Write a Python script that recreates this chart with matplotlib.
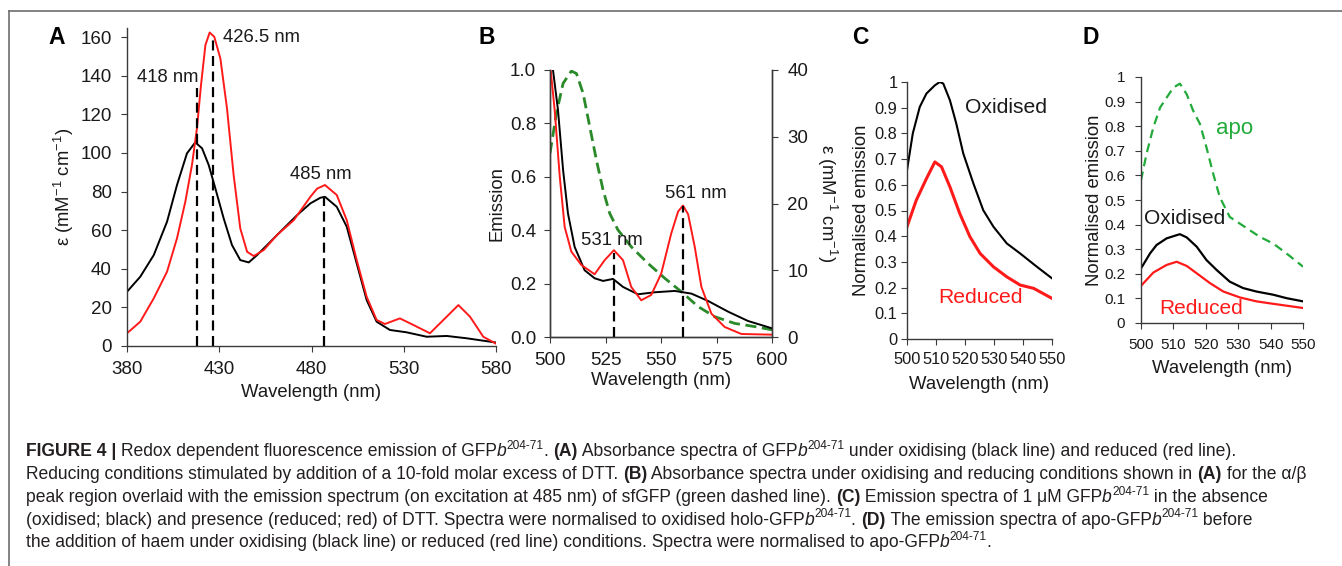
import matplotlib
matplotlib.use("Agg")
import matplotlib.pyplot as plt
from matplotlib import font_manager
from matplotlib.lines import Line2D
from matplotlib.font_manager import FontProperties

# ======================== DATA ========================

# Panel A : absorbance, 380-580 nm
a_ox_nm = [380, 387.2, 394.5, 401.7, 407.1, 412.5, 417, 420.7, 424.3, 427.9, 432.4,
           436.9, 441.4, 446, 450.5, 457.7, 464.9, 472.2, 479.4, 484.8, 487.3,
           493.7, 499.1, 504.5, 509.9, 515.3, 522.5, 531.5, 542.4, 553.3, 564.1, 580]
a_ox_eps = [28.1, 35.9, 47.1, 64.4, 83.4, 99.8, 105.5, 102.4, 93.7, 81.6, 66.1,
            52.3, 44.5, 43.3, 47.1, 54, 60.9, 67.8, 73.9, 76.8, 77.3,
            72.1, 61.8, 42.8, 23.8, 12.6, 8.3, 7.1, 4.8, 5.2, 4.0, 1.8]
a_red_nm = [380, 387.2, 394.5, 401.7, 407.1, 411.6, 415.2, 417.9, 420.1, 422.5, 424.8,
            427.3, 430.6, 434.2, 437.8, 441.4, 445.1, 448.7, 454.1, 461.3, 470.4,
            479.4, 483, 487.3, 493.7, 499.1, 504.5, 509.9, 515.3, 519.8, 527.9,
            535.2, 544.2, 553.3, 559.6, 565.9, 573.1, 580]
a_red_eps = [6.6, 12.6, 24.7, 38.5, 55.8, 74.7, 93.7, 112.7, 135.1, 155.9, 162.4,
             160.2, 149, 123.1, 88.5, 60.9, 48.8, 46.6, 49.7, 57.5, 65.2,
             77.3, 81.5, 83.4, 78.2, 65.2, 44.5, 25.5, 13.5, 11.4, 14.3,
             10.9, 6.6, 15.2, 21.2, 15.2, 4.8, 1.2]
a_peaks = [418, 426.5, 487]
a_peak_tops = [133.4, 159, 76.5]
a_peak_labels = ["418 nm", "426.5 nm", "485 nm"]

# Panel B : alpha/beta region (eps, right axis) + sfGFP emission (left axis)
b_ox_nm = [501.35, 503.6, 505.9, 508.1, 511.1, 515.6, 520.1, 523.9, 528.4, 532.9,
           539.6, 547.2, 556.2, 563.7, 571.2, 580.2, 589.2, 600]
b_ox_eps = [40, 34, 25, 18.5, 13.5, 10.0, 8.8, 8.4, 8.7, 7.5,
            6.4, 6.7, 6.9, 6.5, 5.4, 3.8, 2.4, 1.3]
b_red_nm = [500.3, 502.1, 504.4, 506.6, 509.6, 514.1, 520.1, 524.6, 528.8, 532.9,
            536.6, 541.1, 545.6, 550.1, 554.6, 557.7, 559.9, 562.2, 565.2, 568.2,
            572.7, 578.7, 586.2, 600]
b_red_eps = [40, 34, 24, 16.5, 12.8, 10.8, 9.4, 11.5, 13.0, 11.5,
             7.5, 5.5, 6.3, 9.5, 15.5, 18.8, 19.7, 18.4, 13.5, 7.5,
             3.5, 1.5, 0.45, 0.35]
b_gfp_nm = [500, 502.9, 505.9, 509.6, 511.9, 514.9, 517.9, 520.9, 523.9, 526.9,
            530.6, 536.6, 544.1, 551.7, 559.1, 566.7, 574.2, 583.2, 592.2, 600]
b_gfp_em = [0.688, 0.838, 0.95, 0.996, 0.987, 0.913, 0.788, 0.663, 0.551, 0.463,
            0.401, 0.338, 0.276, 0.22, 0.17, 0.114, 0.076, 0.051, 0.039, 0.027]
b_peaks = [528.8, 559.9]
b_peak_tops = [12.6, 19.6]
b_peak_labels = ["531 nm", "561 nm"]

# Panel C : holo emission
c_ox_nm = [500, 502, 504.4, 506.7, 509.6, 511.3, 512.5, 514.8, 517, 519.4, 522.9,
           526.3, 529.8, 534.4, 539, 544.8, 550]
c_ox_em = [0.657, 0.80, 0.903, 0.955, 0.987, 1.0, 0.994, 0.929, 0.838, 0.722, 0.605,
           0.501, 0.437, 0.372, 0.333, 0.281, 0.236]
c_red_nm = [500, 503.2, 506.7, 509.6, 511.9, 514.8, 518.2, 521.7, 525.2, 529.8,
            534.4, 539, 543.7, 550]
c_red_em = [0.437, 0.54, 0.624, 0.689, 0.67, 0.592, 0.488, 0.398, 0.333, 0.281,
            0.242, 0.21, 0.197, 0.158]

# Panel D : apo emission
d_apo_nm = [500, 501.7, 503.8, 505.9, 507.9, 510, 512, 514.1, 516.1, 518.2, 520.2,
            522.3, 524.3, 527.4, 530.5, 533.6, 536.7, 540.8, 544.9, 550]
d_apo_em = [0.58, 0.687, 0.795, 0.876, 0.916, 0.957, 0.973, 0.93, 0.863, 0.809, 0.714,
            0.606, 0.512, 0.431, 0.404, 0.377, 0.350, 0.323, 0.283, 0.229]
d_ox_nm = [500, 502.8, 504.8, 507.9, 511, 512, 514.1, 517.2, 520.2, 523.3, 527.4,
           531.5, 535.6, 540.8, 544.9, 550]
d_ox_em = [0.222, 0.283, 0.317, 0.344, 0.357, 0.361, 0.348, 0.31, 0.256, 0.216, 0.168,
           0.142, 0.128, 0.115, 0.101, 0.088]
d_red_nm = [500, 503.8, 507.9, 511, 514.1, 517.2, 521.3, 525.4, 530.5, 535.6, 540.8, 550]
d_red_em = [0.151, 0.205, 0.236, 0.249, 0.232, 0.202, 0.162, 0.128, 0.104, 0.088,
            0.078, 0.061]

# ======================== STYLE ===========================================

W, H = 1342, 566
RED = "#ff1a1a"
INK = "#1a1a1a"
SPINE = "#3a3a3a"

plt.rcParams['font.family'] = ['Liberation Sans', 'DejaVu Sans']
plt.rcParams['mathtext.default'] = 'regular'
plt.rcParams['axes.edgecolor'] = SPINE
plt.rcParams['axes.linewidth'] = 1.0
plt.rcParams['xtick.color'] = SPINE
plt.rcParams['ytick.color'] = SPINE
plt.rcParams['xtick.labelcolor'] = INK
plt.rcParams['ytick.labelcolor'] = INK
plt.rcParams['xtick.major.size'] = 4.5
plt.rcParams['ytick.major.size'] = 4.5

fig = plt.figure(figsize=(W / 100, H / 100), dpi=100)


def px_axes(x0, y0, x1, y1):
    # axes box given in pixel coords (top-left origin)
    return fig.add_axes([x0 / W, 1 - y1 / H, (x1 - x0) / W, (y1 - y0) / H])


def clean(ax, right=False):
    ax.spines['top'].set_visible(False)
    if not right:
        ax.spines['right'].set_visible(False)


dash = (0, (4.5, 2.5))

# ---- Panel A
axA = px_axes(127, 27.5, 496, 346)
clean(axA)
axA.plot(a_ox_nm, a_ox_eps, color="black", lw=1.4)
axA.plot(a_red_nm, a_red_eps, color=RED, lw=1.4)
axA.vlines(a_peaks, 0, a_peak_tops, colors="black", linestyles=dash, lw=1.6)
axA.text(385.4, 139, a_peak_labels[0], fontsize=13.3, va='center', color=INK)
axA.text(432, 159.6, a_peak_labels[1], fontsize=13.3, va='center', color=INK)
axA.text(468.5, 89, a_peak_labels[2], fontsize=13.3, va='center', color=INK)
axA.set_xlim(380, 580)
axA.set_ylim(0, 165)
axA.set_xticks([380, 430, 480, 530, 580])
axA.set_yticks(range(0, 161, 20))
axA.tick_params(labelsize=13.5, pad=6.5)
axA.set_xlabel("Wavelength (nm)", fontsize=13.3, color=INK, labelpad=4)
axA.set_ylabel("ε (mM$^{-1}$ cm$^{-1}$)", fontsize=13.3, color=INK, labelpad=3)

# ---- Panel B
axB = px_axes(550, 70, 772, 337)
axB.spines['top'].set_visible(False)
axB2 = axB.twinx()
axB2.spines['top'].set_visible(False)
axB.plot(b_gfp_nm, b_gfp_em, color="#2a8a2a", lw=2.0, linestyle=(0, (4, 2)))
axB2.plot(b_ox_nm, b_ox_eps, color="black", lw=1.4)
axB2.plot(b_red_nm, b_red_eps, color=RED, lw=1.4)
axB2.vlines(b_peaks, 0, b_peak_tops, colors="black", linestyles=dash, lw=1.6)
axB2.text(514.1, 14.5, b_peak_labels[0], fontsize=13.3, va='center', color=INK)
axB2.text(551.7, 21.5, b_peak_labels[1], fontsize=13.3, va='center', color=INK)
axB.set_xlim(500, 600)
axB.set_ylim(0, 1.0)
axB2.set_ylim(0, 40)
axB.set_xticks([500, 525, 550, 575, 600])
axB.set_yticks([0, 0.2, 0.4, 0.6, 0.8, 1.0])
axB.set_yticklabels(["0.0", "0.2", "0.4", "0.6", "0.8", "1.0"])
axB2.set_yticks([0, 10, 20, 30, 40])
axB.tick_params(axis='x', labelsize=13.5, pad=6.5)
axB.tick_params(axis='y', labelsize=13.5, pad=5.5)
axB2.tick_params(labelsize=13.5, pad=6.5)
axB.set_xlabel("Wavelength (nm)", fontsize=13.3, color=INK, labelpad=2)
axB.set_ylabel("Emission", fontsize=13.3, color=INK, labelpad=3)
axB2.set_ylabel("ε (mM$^{-1}$ cm$^{-1}$)", fontsize=13.3, color=INK,
                rotation=270, labelpad=22)

# ---- Panel C
axC = px_axes(907, 82, 1052, 339)
clean(axC)
axC.plot(c_ox_nm, c_ox_em, color="black", lw=1.5)
axC.plot(c_red_nm, c_red_em, color=RED, lw=2.2)
axC.text(520, 0.90, "Oxidised", fontsize=15.2, va='center', color=INK)
axC.text(510.7, 0.16, "Reduced", fontsize=15.2, va='center', color=RED)
axC.set_xlim(500, 550)
axC.set_ylim(0, 1)
axC.set_xticks(range(500, 551, 10))
axC.set_yticks([i / 10 for i in range(11)])
axC.set_yticklabels(["0"] + ["%.1f" % (i / 10) for i in range(1, 10)] + ["1"])
axC.tick_params(axis='y', labelsize=11.8, pad=2.5)
axC.tick_params(axis='x', labelsize=11.8, pad=5)
axC.set_xlabel("Wavelength (nm)", fontsize=13.3, color=INK, labelpad=6)
axC.set_ylabel("Normalised emission", fontsize=13.3, color=INK, labelpad=3)

# ---- Panel D
axD = px_axes(1141, 77, 1303, 323)
clean(axD)
axD.plot(d_apo_nm, d_apo_em, color="#22aa3a", lw=1.6, linestyle=(0, (4, 2.5)))
axD.plot(d_ox_nm, d_ox_em, color="black", lw=1.6)
axD.plot(d_red_nm, d_red_em, color=RED, lw=1.6)
axD.text(523.3, 0.79, "apo", fontsize=16, va='center', color="#22aa3a")
axD.text(501, 0.425, "Oxidised", fontsize=15, va='center', color=INK)
axD.text(505.6, 0.06, "Reduced", fontsize=15, va='center', color=RED)
axD.set_xlim(500, 550)
axD.set_ylim(0, 1)
axD.set_xticks(range(500, 551, 10))
axD.set_yticks([i / 10 for i in range(11)])
axD.set_yticklabels(["0"] + ["%.1f" % (i / 10) for i in range(1, 10)] + ["1"])
axD.tick_params(axis='y', labelsize=11, pad=7)
axD.tick_params(axis='x', labelsize=11, pad=6)
axD.set_xlabel("Wavelength (nm)", fontsize=13.3, color=INK, labelpad=6)
axD.set_ylabel("Normalised emission", fontsize=13.3, color=INK, labelpad=1)

# ---- panel letters
for letter, xp in zip("ABCD", [48, 478, 852, 1082]):
    fig.text(xp / W, 1 - 37 / H, letter, fontsize=16.5, fontweight='bold',
             va='center', ha='left', color="black")

# ---- frame lines
fig.add_artist(Line2D([9 / W, 1], [1 - 10.5 / H, 1 - 10.5 / H],
                      transform=fig.transFigure, color="#6e6e6e", lw=1.2))
fig.add_artist(Line2D([9 / W, 9 / W], [0, 1 - 10.5 / H],
                      transform=fig.transFigure, color="#6e6e6e", lw=1.2))

# ======================== CAPTION ==========================================

names = {f.name for f in font_manager.fontManager.ttflist}
cap_font = 'Liberation Sans Narrow' if 'Liberation Sans Narrow' in names else 'Liberation Sans'

SUP = "204-71"
caption = [
    [("FIGURE 4 | ", "b"), ("Redox dependent fluorescence emission of GFP", ""), ("b", "i"),
     (SUP, "s"), (". ", ""), ("(A)", "b"), (" Absorbance spectra of GFP", ""), ("b", "i"),
     (SUP, "s"), (" under oxidising (black line) and reduced (red line).", "")],
    [("Reducing conditions stimulated by addition of a 10-fold molar excess of DTT. ", ""),
     ("(B)", "b"), (" Absorbance spectra under oxidising and reducing conditions shown in ", ""),
     ("(A)", "b"), (" for the α/β", "")],
    [("peak region overlaid with the emission spectrum (on excitation at 485 nm) of sfGFP "
      "(green dashed line). ", ""), ("(C)", "b"), (" Emission spectra of 1 μM GFP", ""),
     ("b", "i"), (SUP, "s"), (" in the absence", "")],
    [("(oxidised; black) and presence (reduced; red) of DTT. Spectra were normalised to "
      "oxidised holo-GFP", ""), ("b", "i"), (SUP, "s"), (". ", ""), ("(D)", "b"),
     (" The emission spectra of apo-GFP", ""), ("b", "i"), (SUP, "s"), (" before", "")],
    [("the addition of haem under oxidising (black line) or reduced (red line) conditions. "
      "Spectra were normalised to apo-GFP", ""), ("b", "i"), (SUP, "s"), (".", "")],
]

renderer = fig.canvas.get_renderer()


def run_props(style, size):
    fp = FontProperties(family=[cap_font, 'DejaVu Sans'], size=size)
    if style == "b":
        fp.set_weight('bold')
    if style == "i":
        fp.set_style('italic')
    if style == "s":
        fp.set_size(size * 0.68)
    return fp


def run_width(txt, fp):
    w1 = renderer.get_text_width_height_descent("x" + txt + "x", fp, ismath=False)[0]
    w0 = renderer.get_text_width_height_descent("xx", fp, ismath=False)[0]
    return w1 - w0


# scale the caption font so that line 1 spans the same width as in the figure
base = 10.0
line1_w = sum(run_width(t, run_props(s, base)) for t, s in caption[0])
cap_size = base * (1245 - 26) / line1_w

baselines = [456.5, 479.2, 501.9, 524.6, 547.3]
for runs, yb in zip(caption, baselines):
    x = 26
    for txt, style in runs:
        fp = run_props(style, cap_size)
        dy = cap_size * 0.42 * 100 / 72 if style == "s" else 0
        fig.text(x / W, 1 - (yb - dy) / H, txt, fontproperties=fp, color="#231f20",
                 ha='left', va='baseline')
        x += run_width(txt, fp)

fig.savefig("out.png", dpi=100)
